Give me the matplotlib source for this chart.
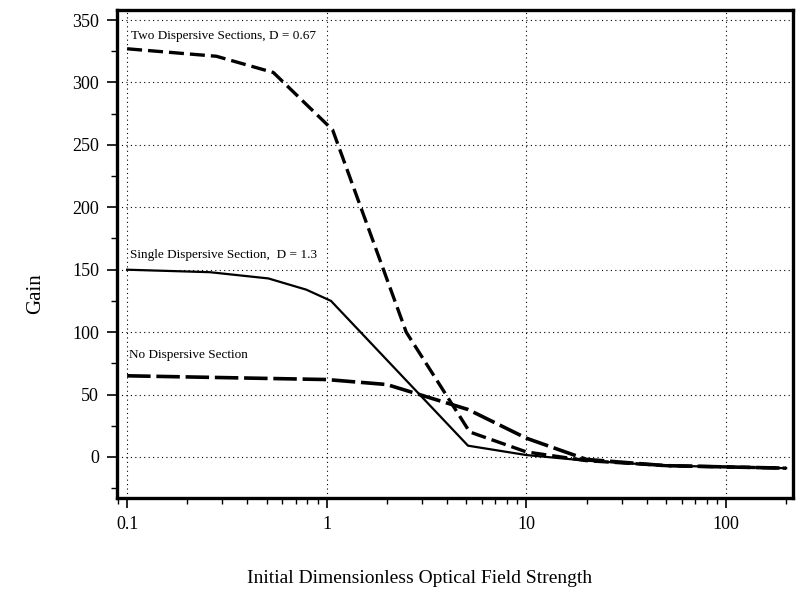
import matplotlib
matplotlib.use("Agg")
import matplotlib.pyplot as plt
from matplotlib.ticker import FixedLocator, MultipleLocator, LogLocator, NullFormatter, FuncFormatter

# Data
x_two = [0.1, 0.28, 0.54, 1.07, 2.5, 5.2, 10, 20, 50, 100, 200]
y_two = [327, 321, 308, 262, 100, 20, 4, -3, -7, -8, -9]

x_single = [0.1, 0.26, 0.51, 0.79, 1.05, 5.1, 10, 20, 50, 100, 200]
y_single = [150, 148, 143, 134, 125, 9, 1.5, -3, -7, -8, -9]

x_none = [0.1, 1.0, 2.0, 5.1, 10, 20, 50, 100, 200]
y_none = [65, 62, 58, 38, 15, -2, -7, -8, -9]

x_ticks = [0.1, 1, 10, 100]
x_ticklabels = ["0.1", "1", "10", "100"]
y_ticks = [0, 50, 100, 150, 200, 250, 300, 350]

plt.rcParams['font.family'] = ['Liberation Serif', 'DejaVu Serif']

fig = plt.figure(figsize=(7.96, 5.93), dpi=100)
ax = fig.add_axes([0.147, 0.160, 0.849, 0.823])

ax.plot(x_two, y_two, color='black', lw=2.4, dashes=(4.5, 1.8), dash_capstyle='butt')
ax.plot(x_single, y_single, color='black', lw=1.6)
ax.plot(x_none, y_none, color='black', lw=2.6, dashes=(6.5, 1.6), dash_capstyle='butt')

ax.set_xscale('log')
ax.set_xlim(0.089, 216)
ax.set_ylim(-33, 358)

ax.xaxis.set_major_locator(FixedLocator(x_ticks))
ax.xaxis.set_major_formatter(FuncFormatter(lambda v, p: x_ticklabels[x_ticks.index(v)] if v in x_ticks else ""))
ax.xaxis.set_minor_locator(LogLocator(base=10, subs=range(2, 10)))
ax.xaxis.set_minor_formatter(NullFormatter())
ax.yaxis.set_major_locator(FixedLocator(y_ticks))
ax.yaxis.set_minor_locator(MultipleLocator(25))

ax.grid(True, which='major', color='black', linestyle=(0, (1, 3)), linewidth=0.8)

for s in ax.spines.values():
    s.set_linewidth(2.4)

ax.tick_params(axis='both', which='major', direction='out', length=7, width=1.2, labelsize=13, pad=6)
ax.tick_params(axis='both', which='minor', direction='out', length=4, width=1.0)

ax.set_xlabel("Initial Dimensionless Optical Field Strength", fontsize=14, va='center')
ax.set_ylabel("Gain", fontsize=15, va='center')
ax.xaxis.set_label_coords(0.447, -0.164)
ax.yaxis.set_label_coords(-0.121, 0.42)

ax.text(0.105, 337, "Two Dispersive Sections, D = 0.67", fontsize=9.5, va='center')
ax.text(0.103, 162, "Single Dispersive Section,  D = 1.3", fontsize=9.5, va='center')
ax.text(0.102, 82, "No Dispersive Section", fontsize=9.5, va='center')

fig.savefig("out.png", dpi=100)
